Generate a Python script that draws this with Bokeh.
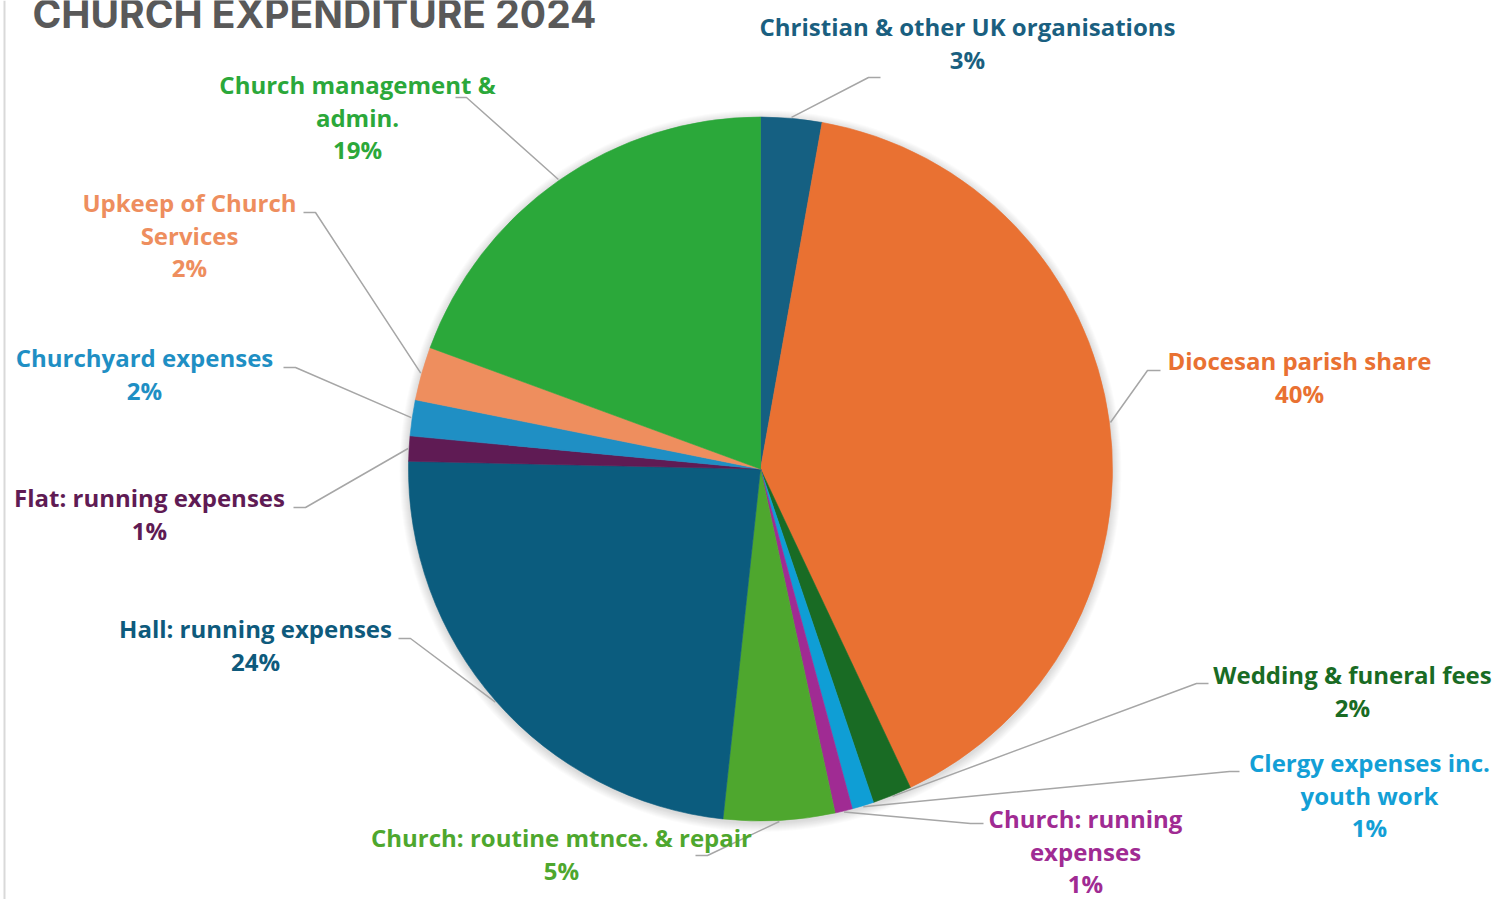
import math
from bokeh.plotting import figure
from bokeh.models import ColumnDataSource, Range1d
from bokeh.core.properties import value
from bokeh.embed import file_html
from bokeh.resources import INLINE

# ---------------- data ----------------
TITLE = "CHURCH EXPENDITURE 2024"
categories = [
    "Christian & other UK organisations",
    "Diocesan parish share",
    "Wedding & funeral fees",
    "Clergy expenses inc.\nyouth work",
    "Church: running\nexpenses",
    "Church: routine mtnce. & repair",
    "Hall: running expenses",
    "Flat: running expenses",
    "Churchyard expenses",
    "Upkeep of Church\nServices",
    "Church management &\nadmin.",
]
shares = [2.8, 40.2, 1.8, 1.0, 0.8, 5.1, 23.65, 1.15, 1.65, 2.45, 19.4]
slice_colors = ["#156082", "#E97132", "#196B24", "#0F9ED5", "#A02B93", "#4EA72E",
                "#0B5C7E", "#5F1B54", "#1F8FC4", "#EE8E5E", "#2BA83A"]
text_colors = ["#1A5F80", "#E97132", "#196B24", "#139FD6", "#A02B93", "#4EA72E",
               "#0E5A7C", "#5F1B54", "#1F8FC4", "#EE8E5E", "#2BA83A"]

# ---------------- layout (page pixels) ----------------
W, H = 1505, 899
FONT = "Open Sans"
TITLE_FONT = "Inter"
def px(x): return x
def py(y): return H - y

CX, CY, R = 760, 468.5, 352
# label first-line centre, elbow point, leader end point
label_pos = [(967, 26), (1299, 360), (1352, 674), (1369, 762), (1085, 818), (561, 837),
             (255, 628), (149, 497), (144, 357), (189, 202), (357, 84)]
elbows = [(868, 77), (1147, 370), (1196, 683), (1229, 771), (970, 823), (707, 855),
          (410, 638), (305, 507), (295, 367), (315, 212), (466, 97)]
ends = [(880, 77), (1160, 370), (1208, 683), (1239, 771), (983, 823), (695, 855),
        (398, 638), (293, 507), (283, 367), (303, 212), (455, 97)]
LINE_GAP = 32.5

p = figure(width=W, height=H, x_range=Range1d(0, W), y_range=Range1d(0, H),
           x_axis_type=None, y_axis_type=None, output_backend="svg",
           toolbar_location=None, min_border=0, outline_line_color=None,
           background_fill_color="white", border_fill_color="white")
p.grid.visible = False

# left chart border
p.segment(x0=[4], y0=[0], x1=[4], y1=[H], line_color="#d9d9d9", line_width=2)

# title
p.text(x=[px(32)], y=[py(13)], text=[TITLE], text_align="left", text_baseline="middle",
       text_font=value(TITLE_FONT), text_font_style="bold", text_font_size="39px",
       text_color="#595959")

# soft shadow around pie
for i in range(1, 10):
    p.circle(x=[px(CX)], y=[py(CY) - 2], radius=R + i, fill_color="black",
             fill_alpha=0.016, line_color=None)

# slices
total = sum(shares)
starts, ends_a, mids, pcts = [], [], [], []
acc = 0.0
for s in shares:
    a0 = acc / total * 360.0
    acc += s
    a1 = acc / total * 360.0
    starts.append(math.radians(90 - a0))
    ends_a.append(math.radians(90 - a1))
    mids.append((a0 + a1) / 2)
    pcts.append(s / total * 100)

src = ColumnDataSource(dict(start=starts, end=ends_a, color=slice_colors))
p.wedge(x=px(CX), y=py(CY), radius=R, start_angle="start", end_angle="end",
        direction="clock", fill_color="color", line_color="color", line_width=0.6,
        source=src)

# leader lines
xs, ys = [], []
for m, e, f in zip(mids, elbows, ends):
    sx = CX + (R + 1) * math.sin(math.radians(m))
    sy = CY - (R + 1) * math.cos(math.radians(m))
    xs.append([px(sx), px(e[0]), px(f[0])])
    ys.append([py(sy), py(e[1]), py(f[1])])
p.multi_line(xs=xs, ys=ys, line_color="#a6a6a6", line_width=1.5)

# labels
lx, ly, lt, lc = [], [], [], []
for name, pct, pos, col in zip(categories, pcts, label_pos, text_colors):
    lines = name.split("\n") + [f"{round(pct)}%"]
    for k, ln in enumerate(lines):
        lx.append(px(pos[0]))
        ly.append(py(pos[1] + k * LINE_GAP))
        lt.append(ln)
        lc.append(col)
lsrc = ColumnDataSource(dict(x=lx, y=ly, text=lt, color=lc))
p.text(x="x", y="y", text="text", text_color="color", text_align="center",
       text_baseline="middle", text_font=value(FONT), text_font_style="bold",
       text_font_size="24px", source=lsrc)

open("out.html", "w").write(file_html(p, INLINE))
